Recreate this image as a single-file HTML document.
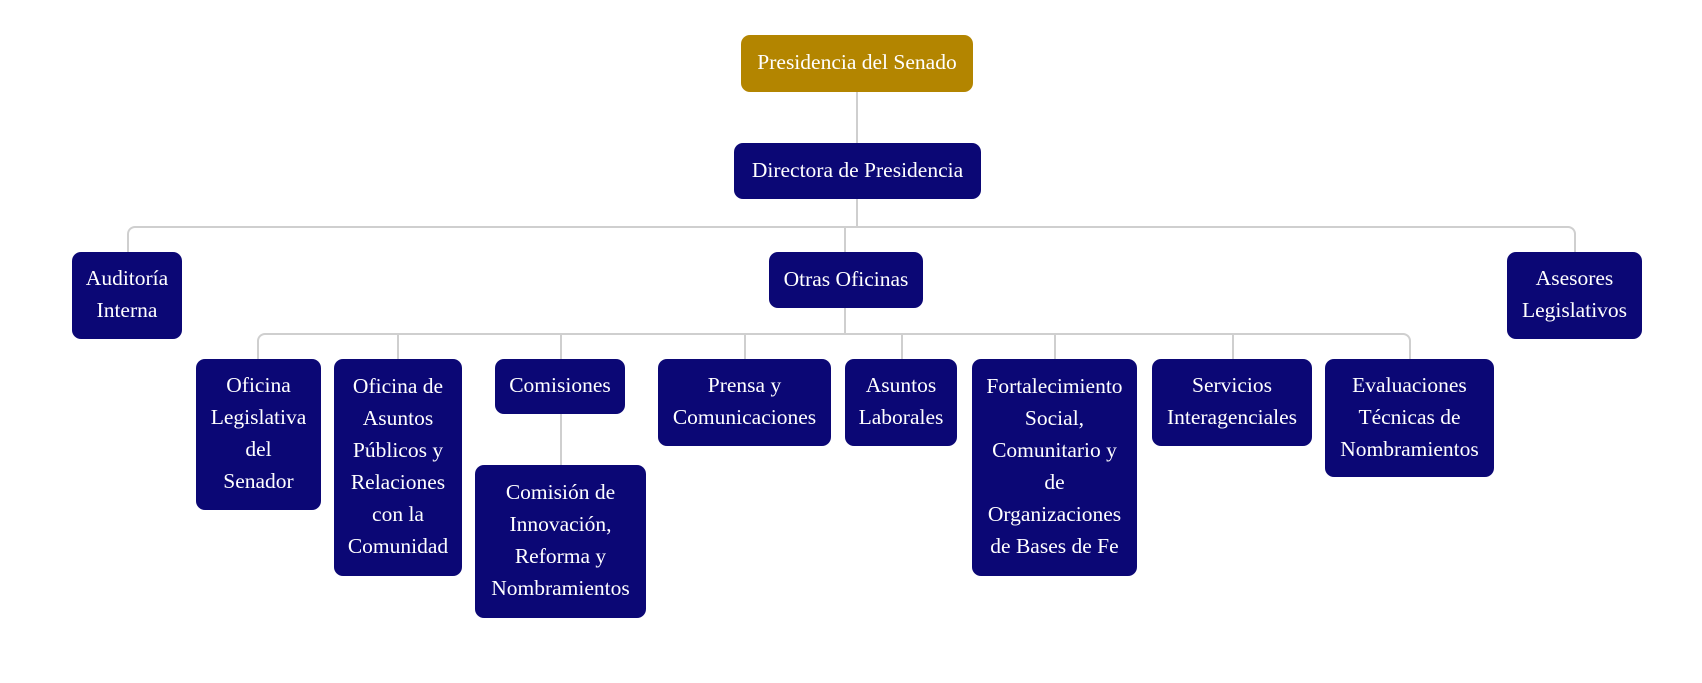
<!DOCTYPE html>
<html><head><meta charset="utf-8"><style>
body{margin:0;width:1702px;height:683px;background:#fff;position:relative;overflow:hidden;font-family:"Liberation Serif",serif;}
.b{position:absolute;background:#0b0775;color:#fff;border-radius:9px;display:flex;align-items:center;justify-content:center;text-align:center;font-size:21.5px;line-height:32px;box-sizing:border-box;white-space:nowrap;padding-bottom:3px;}
.l{position:absolute;background:#cfcfcf;}
</style></head><body>
<div class="l" style="left:856px;top:92px;width:2px;height:51px"></div>
<div class="l" style="left:856px;top:199px;width:2px;height:28px"></div>
<div style="position:absolute;left:127px;top:226px;width:1449px;height:26px;border:2px solid #cfcfcf;border-bottom:none;border-radius:8px 8px 0 0;box-sizing:border-box"></div>
<div class="l" style="left:844px;top:227px;width:2px;height:25px"></div>
<div class="l" style="left:844px;top:308px;width:2px;height:26px"></div>
<div style="position:absolute;left:257px;top:333px;width:1154px;height:26px;border:2px solid #cfcfcf;border-bottom:none;border-radius:8px 8px 0 0;box-sizing:border-box"></div>
<div class="l" style="left:397px;top:334px;width:2px;height:25px"></div>
<div class="l" style="left:560px;top:334px;width:2px;height:25px"></div>
<div class="l" style="left:744px;top:334px;width:2px;height:25px"></div>
<div class="l" style="left:901px;top:334px;width:2px;height:25px"></div>
<div class="l" style="left:1054px;top:334px;width:2px;height:25px"></div>
<div class="l" style="left:1232px;top:334px;width:2px;height:25px"></div>
<div class="l" style="left:560px;top:414px;width:2px;height:51px"></div>
<div class="b" style="left:741px;top:35px;width:232px;height:57px;background:#b38500">Presidencia del Senado</div>
<div class="b" style="left:734px;top:143px;width:247px;height:56px">Directora de Presidencia</div>
<div class="b" style="left:72px;top:252px;width:110px;height:87px">Auditoría<br>Interna</div>
<div class="b" style="left:769px;top:252px;width:154px;height:56px">Otras Oficinas</div>
<div class="b" style="left:1507px;top:252px;width:135px;height:87px">Asesores<br>Legislativos</div>
<div class="b" style="left:196px;top:359px;width:125px;height:151px">Oficina<br>Legislativa<br>del<br>Senador</div>
<div class="b" style="left:334px;top:359px;width:128px;height:217px">Oficina de<br>Asuntos<br>Públicos y<br>Relaciones<br>con la<br>Comunidad</div>
<div class="b" style="left:495px;top:359px;width:130px;height:55px">Comisiones</div>
<div class="b" style="left:475px;top:465px;width:171px;height:153px">Comisión de<br>Innovación,<br>Reforma y<br>Nombramientos</div>
<div class="b" style="left:658px;top:359px;width:173px;height:87px">Prensa y<br>Comunicaciones</div>
<div class="b" style="left:845px;top:359px;width:112px;height:87px">Asuntos<br>Laborales</div>
<div class="b" style="left:972px;top:359px;width:165px;height:217px">Fortalecimiento<br>Social,<br>Comunitario y<br>de<br>Organizaciones<br>de Bases de Fe</div>
<div class="b" style="left:1152px;top:359px;width:160px;height:87px">Servicios<br>Interagenciales</div>
<div class="b" style="left:1325px;top:359px;width:169px;height:118px">Evaluaciones<br>Técnicas de<br>Nombramientos</div>
</body></html>
